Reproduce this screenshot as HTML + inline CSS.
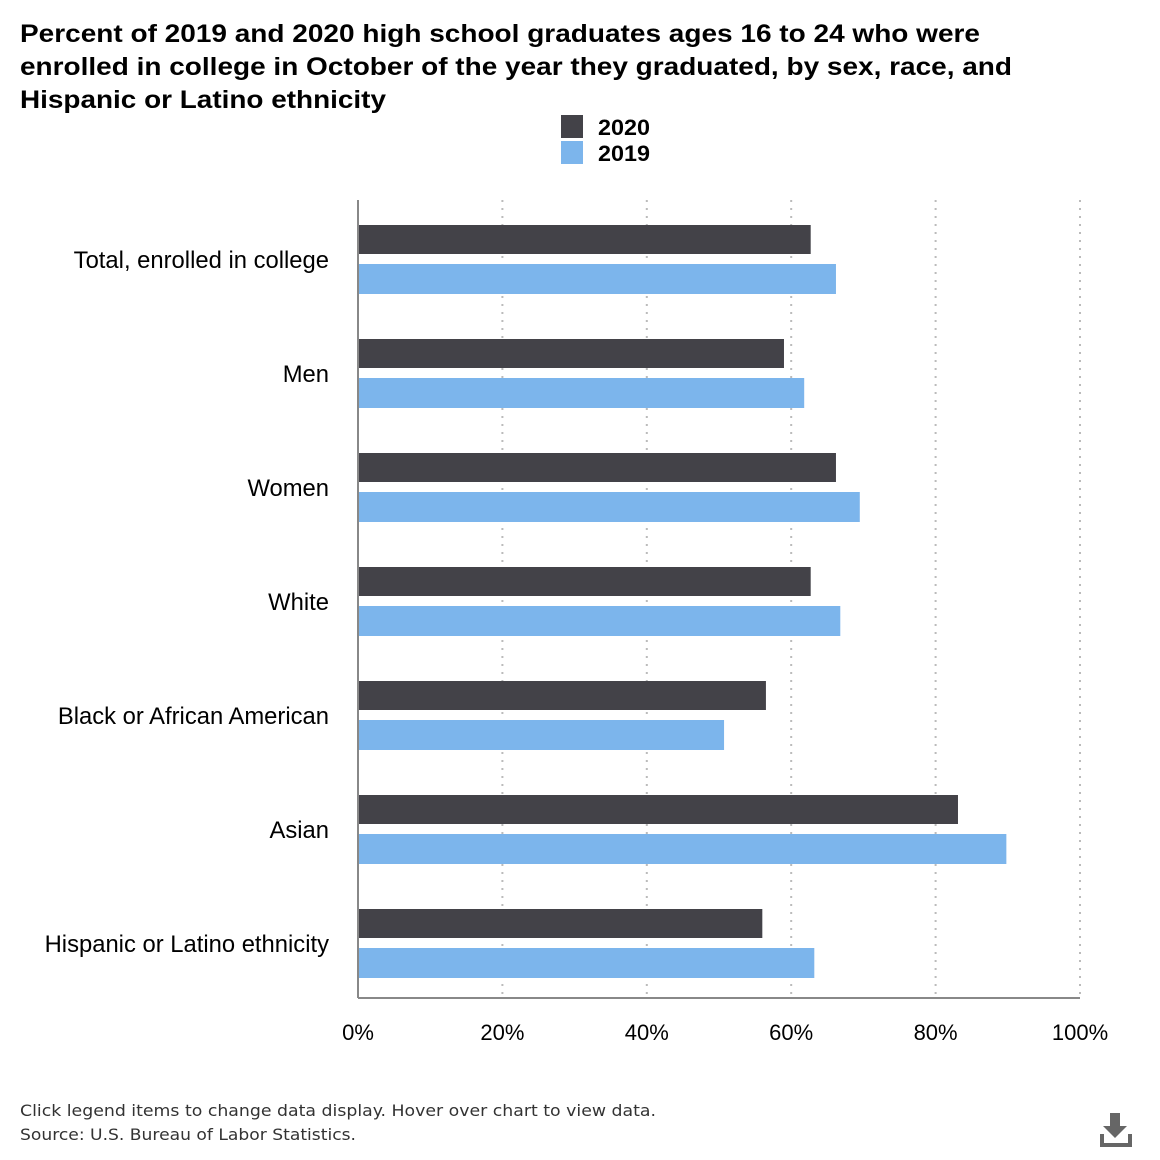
<!DOCTYPE html>
<html><head><meta charset="utf-8"><style>
body{margin:0;background:#fff;font-family:"Liberation Sans",Arial,sans-serif;}
#wrap{position:relative;width:1160px;height:1160px;overflow:hidden}
</style></head><body>
<div id="wrap">
<svg id="chart" width="1160" height="1160">
<text font-size="25" font-weight="bold" fill="#000">
<tspan x="20" y="42" textLength="960" lengthAdjust="spacingAndGlyphs">Percent of 2019 and 2020 high school graduates ages 16 to 24 who were</tspan>
<tspan x="20" y="75" textLength="992" lengthAdjust="spacingAndGlyphs">enrolled in college in October of the year they graduated, by sex, race, and</tspan>
<tspan x="20" y="108" textLength="366" lengthAdjust="spacingAndGlyphs">Hispanic or Latino ethnicity</tspan></text>
<g><rect x="561" y="115" width="22" height="23" fill="#434248"/><text x="598" y="135" font-size="22" font-weight="bold" textLength="52" lengthAdjust="spacingAndGlyphs">2020</text></g>
<g><rect x="561" y="141" width="22" height="23" fill="#7cb5ec"/><text x="598" y="161" font-size="22" font-weight="bold" textLength="52" lengthAdjust="spacingAndGlyphs">2019</text></g>
<g id="grid"></g><g id="bars"></g><g id="labels"></g>
<text x="20" y="1116" font-size="16" fill="#333" font-family="DejaVu Sans, sans-serif" textLength="636" lengthAdjust="spacingAndGlyphs">Click legend items to change data display. Hover over chart to view data.</text>
<text x="20" y="1140" font-size="16" fill="#333" font-family="DejaVu Sans, sans-serif" textLength="336" lengthAdjust="spacingAndGlyphs">Source: U.S. Bureau of Labor Statistics.</text>
<g fill="#666">
<rect x="1110" y="1113" width="10" height="14"/><polygon points="1103,1126 1127,1126 1115,1138"/>
<rect x="1100" y="1143" width="32" height="4"/><rect x="1100" y="1134" width="4" height="12"/><rect x="1128" y="1134" width="4" height="12"/></g>
</svg>
</div>
<script>
const categories=["Total, enrolled in college","Men","Women","White","Black or African American","Asian","Hispanic or Latino ethnicity"];
const values2020=[62.7,59.0,66.2,62.7,56.5,83.1,56.0];
const values2019=[66.2,61.8,69.5,66.8,50.7,89.8,63.2];
const tickValues=[0,20,40,60,80,100];
const tickLabels=["0%","20%","40%","60%","80%","100%"];
const NS="http://www.w3.org/2000/svg";
const x0=358,x1=1080,yTop=200,yBot=998;
const band=(yBot-yTop)/categories.length;
function xs(v){return x0+(x1-x0)*v/100;}
function el(t,a,p){const e=document.createElementNS(NS,t);for(const k in a)e.setAttribute(k,a[k]);document.getElementById(p).appendChild(e);return e;}
tickValues.forEach((v,i)=>{
  if(v>0){const l=el('line',{x1:xs(v),x2:xs(v),y1:yTop,y2:yBot,stroke:'#bbb','stroke-width':2,'stroke-dasharray':'2,6'},'grid');
  
  }
  const t=el('text',{x:xs(v),y:1040,'font-size':22,'text-anchor':'middle',fill:'#000'},'labels');
  t.textContent=tickLabels[i];
  
  
});
const ax=el('line',{x1:x0,x2:x0,y1:yTop,y2:yBot,stroke:'#888','stroke-width':2},'grid');


const bx=el('line',{x1:x0,x2:x1,y1:yBot,y2:yBot,stroke:'#888','stroke-width':2},'grid');


categories.forEach((c,i)=>{
  const gy=yTop+i*band;
  const b1=el('rect',{x:x0+1,y:gy+25,width:xs(values2020[i])-x0-1,height:29,fill:'#434248'},'bars');
  
  
  const b2=el('rect',{x:x0+1,y:gy+64,width:xs(values2019[i])-x0-1,height:30,fill:'#7cb5ec'},'bars');
  
  
  const t=el('text',{x:329,y:gy+68,'font-size':23.8,'text-anchor':'end',fill:'#000'},'labels');
  t.textContent=c;
  
  
});
</script>
</body></html>
